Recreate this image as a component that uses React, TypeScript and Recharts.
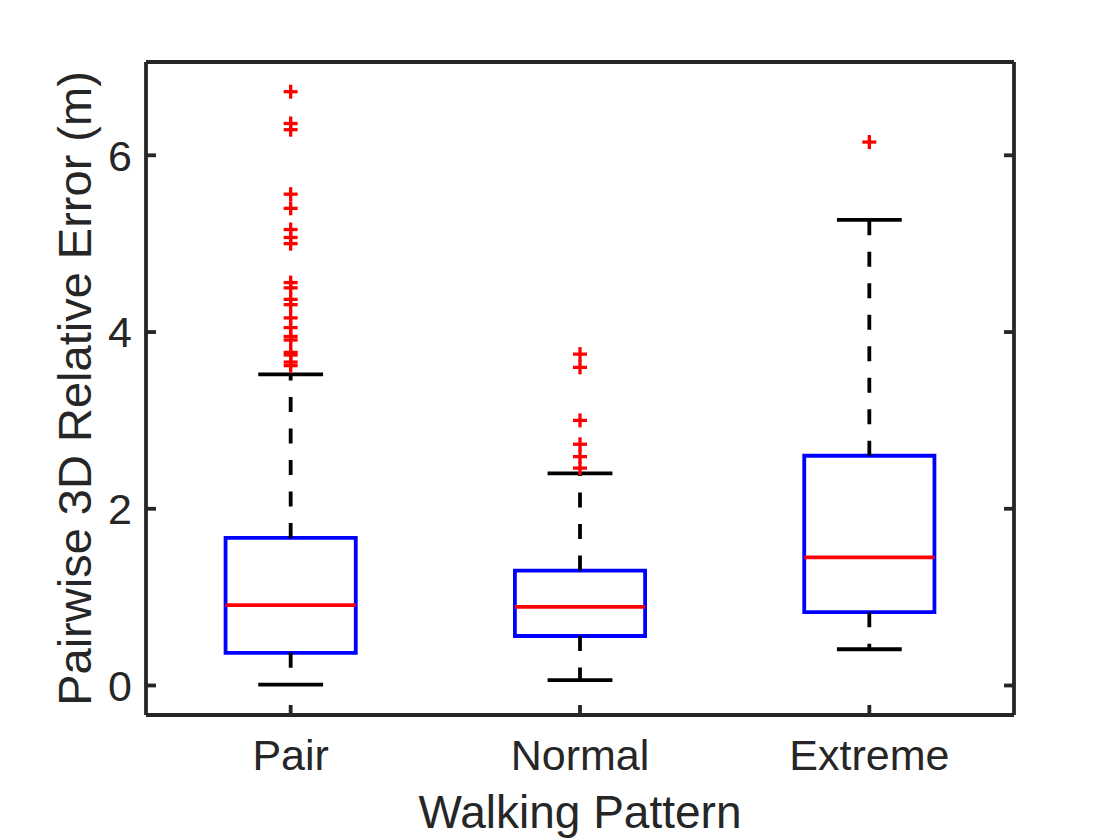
import {
  ComposedChart,
  XAxis,
  YAxis,
  Scatter,
  ReferenceArea,
  ReferenceLine,
} from "recharts";

const categories = ["Pair", "Normal", "Extreme"];
const lowerWhisker = [0.01, 0.06, 0.41];
const q1 = [0.37, 0.56, 0.83];
const median = [0.91, 0.89, 1.45];
const q3 = [1.67, 1.3, 2.6];
const upperWhisker = [3.52, 2.4, 5.27];

const pairOutliers = [
  6.72, 6.36, 6.29, 5.56, 5.4, 5.16, 5.07, 5.0, 4.56, 4.5, 4.37, 4.31, 4.16,
  4.05, 3.95, 3.91, 3.77, 3.74, 3.66, 3.62,
];
const normalOutliers = [3.75, 3.6, 3.0, 2.73, 2.59, 2.46];
const extremeOutliers = [6.15];

const yTicks = [0, 2, 4, 6];
const xTicks = [1, 2, 3];

const outlierPoints = [
  ...pairOutliers.map((y) => ({ x: 1, y })),
  ...normalOutliers.map((y) => ({ x: 2, y })),
  ...extremeOutliers.map((y) => ({ x: 3, y })),
];

const font = '"Liberation Sans", Arial, Helvetica, sans-serif';
const axisColor = "#262626";
const boxHalf = 0.225;
const capHalf = 0.112;
const lw = 3.8;

const tickStyle = { fill: axisColor, fontSize: 43, fontFamily: font };
const lineStyle = { stroke: axisColor, strokeWidth: lw };

function Plus(props: any) {
  const { cx, cy } = props;
  if (cx == null || cy == null) return null;
  const h = 7;
  return (
    <g stroke="#FF0000" strokeWidth={3.3}>
      <line x1={cx - h} y1={cy} x2={cx + h} y2={cy} />
      <line x1={cx} y1={cy - h} x2={cx} y2={cy + h} />
    </g>
  );
}

function YLabel(props: any) {
  const vb = props.viewBox || { y: 62, height: 653 };
  const cx = 74;
  const cy = vb.y + vb.height / 2;
  return (
    <text
      x={cx}
      y={cy}
      dy="0.36em"
      transform={`rotate(-90, ${cx}, ${cy})`}
      textAnchor="middle"
      fill={axisColor}
      fontSize={47}
      fontFamily={font}
    >
      Pairwise 3D Relative Error (m)
    </text>
  );
}

export default function App() {
  return (
    <div style={{ position: "absolute", left: 0, top: 0, background: "#fff" }}>
      <ComposedChart
        width={1120}
        height={840}
        margin={{ top: 0, right: 0, bottom: 0, left: 0 }}
      >
        <XAxis
          type="number"
          dataKey="x"
          domain={[0.5, 3.5]}
          ticks={xTicks}
          interval={0}
          allowDataOverflow
          height={125}
          tickSize={-10}
          tickMargin={34}
          tick={tickStyle}
          tickLine={lineStyle}
          axisLine={lineStyle}
          tickFormatter={(v: number) => categories[v - 1] ?? ""}
          label={{
            value: "Walking Pattern",
            position: "insideBottom",
            offset: 12,
            fill: axisColor,
            fontSize: 46,
            fontFamily: font,
          }}
        />
        <XAxis
          xAxisId="t"
          orientation="top"
          type="number"
          domain={[0.5, 3.5]}
          ticks={xTicks}
          interval={0}
          allowDataOverflow
          height={62}
          tickSize={-10}
          tick={tickStyle}
          tickLine={lineStyle}
          axisLine={lineStyle}
          tickFormatter={() => ""}
        />
        <YAxis
          type="number"
          dataKey="y"
          domain={[-0.334, 7.056]}
          ticks={yTicks}
          interval={0}
          allowDataOverflow
          width={146}
          tickSize={-10}
          tickMargin={24}
          tick={tickStyle}
          tickLine={lineStyle}
          axisLine={lineStyle}
          label={<YLabel />}
        />
        <YAxis
          yAxisId="r"
          orientation="right"
          type="number"
          domain={[-0.334, 7.056]}
          ticks={yTicks}
          interval={0}
          allowDataOverflow
          width={106}
          tickSize={-10}
          tick={tickStyle}
          tickLine={lineStyle}
          axisLine={lineStyle}
          tickFormatter={() => ""}
        />

        {categories.map((c, i) => {
          const x = i + 1;
          return [
            <ReferenceLine
              key={`uw-${c}`}
              segment={[
                { x, y: q3[i] },
                { x, y: upperWhisker[i] },
              ]}
              stroke="#000"
              strokeWidth={lw}
              strokeDasharray="15 16.5"
            />,
            <ReferenceLine
              key={`lw-${c}`}
              segment={[
                { x, y: q1[i] },
                { x, y: lowerWhisker[i] },
              ]}
              stroke="#000"
              strokeWidth={lw}
              strokeDasharray="15 16.5"
            />,
            <ReferenceLine
              key={`uc-${c}`}
              segment={[
                { x: x - capHalf, y: upperWhisker[i] },
                { x: x + capHalf, y: upperWhisker[i] },
              ]}
              stroke="#000"
              strokeWidth={lw}
            />,
            <ReferenceLine
              key={`lc-${c}`}
              segment={[
                { x: x - capHalf, y: lowerWhisker[i] },
                { x: x + capHalf, y: lowerWhisker[i] },
              ]}
              stroke="#000"
              strokeWidth={lw}
            />,
            <ReferenceArea
              key={`box-${c}`}
              x1={x - boxHalf}
              x2={x + boxHalf}
              y1={q1[i]}
              y2={q3[i]}
              fill="none"
              fillOpacity={0}
              stroke="#0000FF"
              strokeWidth={lw}
              strokeOpacity={1}
            />,
            <ReferenceLine
              key={`med-${c}`}
              segment={[
                { x: x - boxHalf, y: median[i] },
                { x: x + boxHalf, y: median[i] },
              ]}
              stroke="#FF0000"
              strokeWidth={lw}
            />,
          ];
        })}

        <Scatter
          data={outlierPoints}
          dataKey="y"
          shape={<Plus />}
          isAnimationActive={false}
        />
      </ComposedChart>
    </div>
  );
}
